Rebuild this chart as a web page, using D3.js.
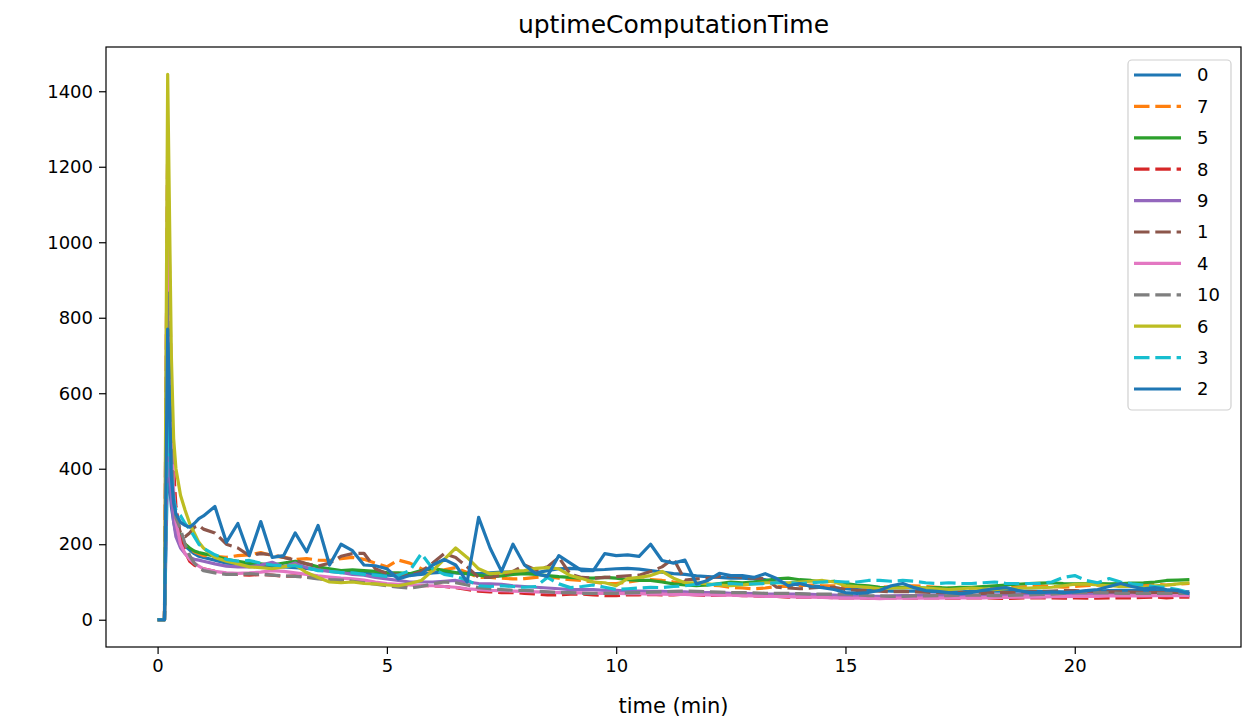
<!DOCTYPE html>
<html>
<head>
<meta charset="utf-8">
<script src="https://cdn.jsdelivr.net/npm/d3@7"></script>
<style>
  html, body { margin: 0; padding: 0; background: #fff; }
  svg { display: block; font-family: "DejaVu Sans", sans-serif; }
</style>
</head>
<body>
<div id="chart"></div>
<script>
// Sample times in minutes (shared by every series).
const times = [
  0, 0.15, 0.22, 0.3, 0.35, 0.4, 0.5, 0.6, 0.7, 0.8, 0.9, 1.0,
  1.25, 1.5, 1.75, 2.0, 2.25, 2.5, 2.75, 3.0, 3.25, 3.5,
  3.75, 4.0, 4.25, 4.5, 4.75, 5.0, 5.25, 5.5, 5.75, 6.0,
  6.25, 6.5, 6.75, 7.0, 7.25, 7.5, 7.75, 8.0, 8.25, 8.5,
  8.75, 9.0, 9.25, 9.5, 9.75, 10.0, 10.25, 10.5, 10.75, 11.0,
  11.25, 11.5, 11.75, 12.0, 12.25, 12.5, 12.75, 13.0, 13.25, 13.5,
  13.75, 14.0, 14.25, 14.5, 14.75, 15.0, 15.25, 15.5, 15.75, 16.0,
  16.25, 16.5, 16.75, 17.0, 17.25, 17.5, 17.75, 18.0, 18.25, 18.5,
  18.75, 19.0, 19.25, 19.5, 19.75, 20.0, 20.25, 20.5, 20.75, 21.0,
  21.25, 21.5, 21.75, 22.0, 22.25, 22.5
];

// uptimeComputationTime per node, same order as the legend.
const values0 = [
  0, 0, 420, 300, 260, 230, 210, 195, 185, 175, 168, 165,
  158, 150, 148, 145, 142, 140, 140, 138, 136, 132,
  130, 128, 126, 124, 120, 118, 116, 118, 120, 124,
  126, 124, 122, 122, 124, 126, 126, 125, 124, 130,
  135, 136, 134, 132, 133, 135, 136, 134, 130, 126,
  122, 120, 116, 114, 112, 110, 110, 108, 106, 100,
  96, 92, 90, 88, 84, 82, 80, 78, 77, 76,
  76, 76, 75, 74, 74, 74, 75, 76, 76, 76,
  76, 76, 75, 74, 74, 74, 75, 76, 77, 78,
  78, 78, 77, 76, 75, 74
];
const values7 = [
  0, 0, 950, 420, 320, 270, 220, 200, 189, 180, 175, 170,
  168, 165, 170, 172, 178, 170, 165, 160, 162, 158,
  157, 162, 165, 160, 150, 140, 158, 150, 135, 130,
  132, 138, 125, 112, 112, 110, 108, 109, 112, 114,
  110, 106, 104, 100, 96, 96, 100, 104, 106, 104,
  100, 96, 94, 92, 90, 86, 84, 82, 84, 88,
  88, 90, 92, 90, 90, 88, 88, 86, 86, 88,
  90, 90, 88, 86, 84, 82, 84, 86, 86, 84,
  86, 88, 90, 88, 86, 88, 90, 92, 90, 88,
  90, 92, 94, 92, 94, 96
];
const values5 = [
  0, 0, 600, 380, 300, 260, 220, 200, 190, 182, 178, 175,
  168, 160, 155, 150, 148, 145, 150, 155, 148, 140,
  135, 130, 132, 130, 128, 125, 124, 122, 130, 136,
  130, 125, 122, 118, 114, 116, 120, 122, 120, 117,
  114, 112, 110, 110, 112, 110, 106, 104, 104, 100,
  95, 92, 90, 92, 96, 100, 98, 100, 104, 108,
  110, 106, 104, 100, 102, 96, 92, 90, 86, 85,
  86, 85, 84, 85, 84, 86, 86, 88, 90, 92,
  94, 96, 97, 98, 96, 95, 96, 96, 95, 96,
  97, 98, 100, 104, 105, 106
];
const values8 = [
  0, 0, 1260, 600, 400, 300, 220, 180, 155, 145, 138, 135,
  128, 122, 120, 118, 120, 118, 115, 116, 114, 110,
  106, 104, 104, 100, 96, 94, 92, 90, 90, 90,
  88, 85, 80, 76, 74, 72, 72, 70, 68, 66,
  66, 68, 68, 66, 64, 64, 66, 66, 67, 66,
  66, 68, 66, 64, 65, 66, 64, 63, 62, 62,
  60, 60, 60, 60, 58, 58, 58, 57, 58, 58,
  58, 57, 58, 58, 57, 57, 58, 58, 57, 56,
  57, 58, 58, 58, 57, 58, 57, 57, 58, 58,
  58, 59, 60, 58, 60, 60
];
const values9 = [
  0, 0, 500, 320, 260, 220, 190, 175, 165, 160, 158, 155,
  148, 142, 140, 140, 145, 152, 140, 150, 138, 132,
  128, 125, 120, 118, 112, 108, 104, 100, 100, 100,
  102, 104, 100, 96, 95, 94, 90, 88, 86, 84,
  82, 80, 80, 80, 78, 78, 76, 76, 75, 75,
  74, 74, 72, 72, 72, 70, 70, 69, 68, 68,
  68, 68, 67, 66, 65, 64, 62, 62, 62, 63,
  64, 64, 65, 65, 64, 64, 65, 65, 66, 66,
  67, 68, 68, 70, 70, 70, 70, 68, 68, 67,
  66, 66, 66, 65, 65, 65
];
const values1 = [
  0, 0, 1000, 450, 330, 270, 230, 220, 230, 245, 250, 240,
  230, 200, 190, 170, 175, 172, 165, 158, 148, 142,
  150, 168, 175, 176, 135, 122, 120, 118, 128, 150,
  175, 165, 140, 112, 112, 118, 128, 145, 132, 140,
  165, 120, 112, 110, 112, 114, 116, 118, 128, 140,
  162, 105, 108, 110, 115, 116, 112, 110, 109, 86,
  84, 82, 84, 86, 86, 80, 78, 78, 76, 74,
  75, 74, 73, 72, 72, 72, 70, 70, 72, 72,
  73, 74, 75, 76, 77, 77, 76, 75, 74, 74,
  73, 72, 72, 72, 73, 72
];
const values4 = [
  0, 0, 1230, 550, 340, 260, 200, 175, 160, 150, 142, 135,
  128, 124, 123, 124, 126, 130, 128, 124, 120, 116,
  113, 110, 108, 105, 100, 96, 94, 92, 90, 90,
  88, 86, 82, 80, 78, 77, 76, 75, 74, 73,
  72, 72, 71, 70, 70, 70, 69, 69, 68, 68,
  67, 67, 66, 66, 65, 65, 64, 63, 62, 62,
  61, 60, 60, 59, 58, 57, 57, 57, 56, 57,
  57, 57, 57, 57, 58, 58, 58, 58, 59, 59,
  60, 60, 60, 61, 61, 62, 62, 62, 63, 63,
  63, 63, 64, 64, 64, 64
];
const values10 = [
  0, 0, 866, 450, 320, 270, 240, 200, 170, 150, 138, 130,
  124, 120, 120, 122, 120, 118, 116, 115, 112, 108,
  106, 105, 102, 98, 94, 90, 86, 84, 88, 95,
  100, 98, 92, 85, 82, 80, 78, 78, 76, 74,
  72, 72, 70, 70, 70, 70, 71, 72, 73, 74,
  75, 76, 75, 74, 73, 72, 72, 71, 70, 70,
  70, 69, 68, 68, 68, 68, 66, 64, 63, 62,
  62, 63, 63, 64, 64, 65, 65, 65, 64, 64,
  65, 66, 67, 68, 70, 72, 72, 72, 71, 70,
  70, 70, 70, 70, 70, 70
];
const values6 = [
  0, 0, 1445, 700, 480, 400, 330, 290, 255, 230, 205, 190,
  165, 155, 148, 140, 138, 135, 140, 145, 125, 112,
  100, 98, 100, 96, 95, 92, 90, 96, 104, 130,
  160, 190, 165, 135, 122, 124, 128, 130, 136, 138,
  135, 117, 109, 100, 98, 90, 109, 112, 117, 128,
  110, 98, 98, 95, 92, 90, 92, 95, 98, 98,
  98, 100, 102, 104, 100, 90, 88, 86, 82, 84,
  84, 86, 84, 82, 80, 82, 84, 82, 80, 82,
  84, 84, 85, 86, 90, 94, 95, 92, 90, 88,
  88, 86, 90, 92, 95, 98
];
const values3 = [
  0, 0, 550, 380, 320, 290, 276, 255, 240, 220, 200, 189,
  172, 160, 155, 157, 150, 145, 143, 143, 138, 130,
  128, 125, 124, 120, 118, 115, 118, 130, 175, 135,
  120, 115, 105, 90, 88, 90, 88, 86, 88, 112,
  95, 85, 88, 92, 86, 80, 82, 84, 86, 85,
  88, 90, 94, 92, 95, 96, 94, 95, 96, 98,
  98, 96, 98, 100, 102, 100, 100, 104, 104, 102,
  104, 102, 98, 96, 98, 96, 96, 98, 100, 96,
  96, 96, 96, 100, 112, 117, 104, 98, 109, 100,
  95, 92, 88, 85, 80, 72
];
const values2 = [
  0, 0, 770, 380, 310, 280, 258, 250, 245, 255, 268, 275,
  300, 205, 255, 170, 260, 165, 170, 230, 180, 250,
  145, 200, 183, 145, 143, 135, 108, 117, 122, 145,
  160, 145, 100, 271, 190, 128, 200, 145, 122, 115,
  170, 150, 130, 130, 175, 170, 172, 168, 200, 157,
  150, 158, 95, 104, 123, 117, 117, 112, 122, 109,
  90, 96, 88, 85, 80, 72, 70, 72, 78, 90,
  96, 85, 77, 75, 72, 69, 72, 78, 82, 85,
  78, 72, 72, 74, 72, 74, 77, 80, 88, 96,
  88, 82, 85, 80, 77, 69
];

const seriesNames = ["0", "7", "5", "8", "9", "1", "4", "10", "6", "3", "2"];
const seriesValues = [
  values0, values7, values5, values8, values9, values1,
  values4, values10, values6, values3, values2,
];

const xTicks = [0, 5, 10, 15, 20];
const yTicks = [0, 200, 400, 600, 800, 1000, 1200, 1400];

/**
 * Layout.
 */
const width = 1259;
const height = 725;
const marginTop = 47;
const marginRight = 18;
const marginBottom = 78;
const marginLeft = 106;
const lineWidth = 3.2;
const dashPattern = "15.5,5.8";

// Build one record per series; colour cycles like matplotlib, every other line dashed.
const series = seriesNames.map((name, i) => ({
  name,
  color: d3.schemeCategory10[i % 10],
  dashed: i % 2 === 1,
  points: times.map((t, j) => [t, seriesValues[i][j]]),
}));

// Scales with 5% padding on both axes.
const xMin = d3.min(times);
const xMax = d3.max(times);
const xPad = (xMax - xMin) * 0.05;
const yMax = d3.max(seriesValues, (v) => d3.max(v));
const yMin = d3.min(seriesValues, (v) => d3.min(v));
const yPad = (yMax - yMin) * 0.05;

const x = d3
  .scaleLinear()
  .domain([xMin - xPad, xMax + xPad])
  .range([marginLeft, width - marginRight]);

const y = d3
  .scaleLinear()
  .domain([yMin - yPad, yMax + yPad])
  .range([height - marginBottom, marginTop]);

/**
 * SVG container.
 */
const svg = d3
  .select("#chart")
  .append("svg")
  .attr("width", width)
  .attr("height", height);

svg
  .append("defs")
  .append("clipPath")
  .attr("id", "plot-clip")
  .append("rect")
  .attr("x", marginLeft)
  .attr("y", marginTop)
  .attr("width", width - marginLeft - marginRight)
  .attr("height", height - marginTop - marginBottom);

/**
 * Lines.
 */
const line = d3
  .line()
  .x((d) => x(d[0]))
  .y((d) => y(d[1]));

svg
  .append("g")
  .attr("clip-path", "url(#plot-clip)")
  .selectAll("path")
  .data(series)
  .join("path")
  .attr("d", (d) => line(d.points))
  .attr("fill", "none")
  .attr("stroke", (d) => d.color)
  .attr("stroke-width", lineWidth)
  .attr("stroke-linejoin", "round")
  .attr("stroke-dasharray", (d) => (d.dashed ? dashPattern : null));

/**
 * Axes.
 */
const xAxis = svg
  .append("g")
  .attr("transform", `translate(0,${height - marginBottom})`)
  .call(d3.axisBottom(x).tickValues(xTicks).tickSize(7).tickPadding(5));

const yAxis = svg
  .append("g")
  .attr("transform", `translate(${marginLeft},0)`)
  .call(
    d3
      .axisLeft(y)
      .tickValues(yTicks)
      .tickFormat(d3.format("d"))
      .tickSize(7)
      .tickPadding(6)
  );

[xAxis, yAxis].forEach((axis) => {
  axis.select(".domain").remove();
  axis.selectAll(".tick line").attr("stroke", "#000").attr("stroke-width", 1.2);
  axis
    .selectAll(".tick text")
    .attr("fill", "#000")
    .attr("font-size", 18)
    .attr("font-family", "DejaVu Sans");
});

// Frame around the plot area.
svg
  .append("rect")
  .attr("x", marginLeft)
  .attr("y", marginTop)
  .attr("width", width - marginLeft - marginRight)
  .attr("height", height - marginTop - marginBottom)
  .attr("fill", "none")
  .attr("stroke", "#000")
  .attr("stroke-width", 1.2);

/**
 * Labels.
 */
svg
  .append("text")
  .attr("x", (marginLeft + width - marginRight) / 2)
  .attr("y", 33)
  .attr("text-anchor", "middle")
  .attr("font-size", 25)
  .text("uptimeComputationTime");

svg
  .append("text")
  .attr("x", (marginLeft + width - marginRight) / 2)
  .attr("y", 713)
  .attr("text-anchor", "middle")
  .attr("font-size", 21)
  .text("time (min)");

/**
 * Legend.
 */
const legendX = 1128;
const legendY = 60;
const rowHeight = 31.4;

const legend = svg.append("g");

legend
  .append("rect")
  .attr("x", legendX)
  .attr("y", legendY)
  .attr("width", 103)
  .attr("height", 350)
  .attr("rx", 4)
  .attr("fill", "#fff")
  .attr("fill-opacity", 0.8)
  .attr("stroke", "#d0d0d0")
  .attr("stroke-width", 1.2);

const rows = legend
  .selectAll("g.row")
  .data(series)
  .join("g")
  .attr("class", "row")
  .attr("transform", (d, i) => `translate(${legendX},${legendY + 15 + i * rowHeight})`);

rows
  .append("line")
  .attr("x1", 6)
  .attr("x2", 53)
  .attr("stroke", (d) => d.color)
  .attr("stroke-width", lineWidth)
  .attr("stroke-dasharray", (d) => (d.dashed ? dashPattern : null));

rows
  .append("text")
  .attr("x", 69)
  .attr("dy", "0.36em")
  .attr("font-size", 18)
  .text((d) => d.name);
</script>
</body>
</html>
